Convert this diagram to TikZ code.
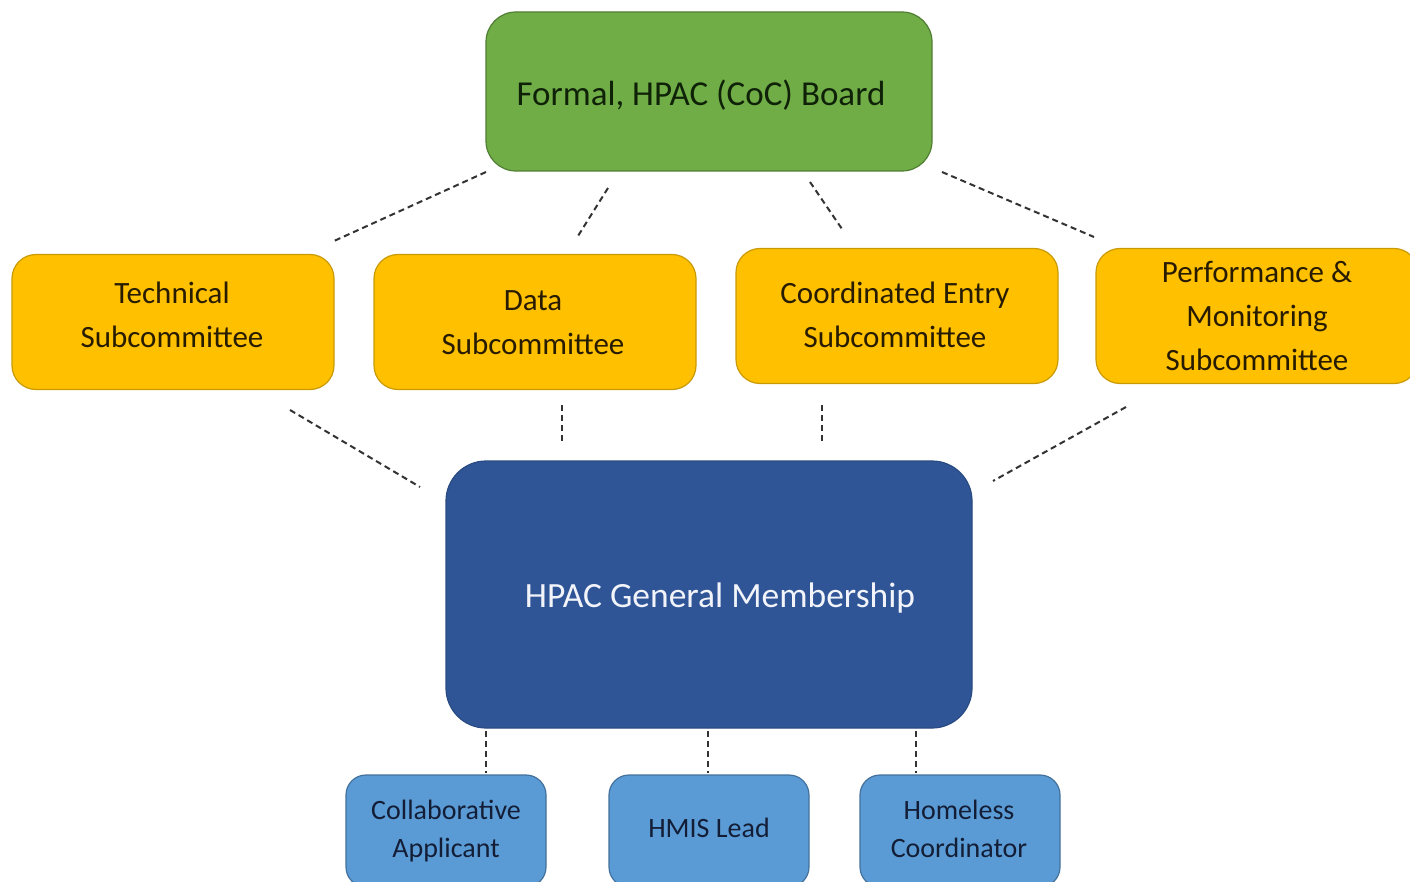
\documentclass[tikz,border=0pt]{standalone}
\usepackage{fontspec}
\setmainfont{Carlito}
\definecolor{gfill}{HTML}{70AD47}
\definecolor{gdraw}{HTML}{507E32}
\definecolor{yfill}{HTML}{FFC000}
\definecolor{ydraw}{HTML}{C99A06}
\definecolor{bfill}{HTML}{2F5597}
\definecolor{bdraw}{HTML}{2A4B82}
\definecolor{lfill}{HTML}{5B9BD5}
\definecolor{ldraw}{HTML}{41719C}
\definecolor{linkc}{HTML}{333333}
\definecolor{gtext}{HTML}{0F2208}
\definecolor{ytext}{HTML}{281C00}
\definecolor{btext}{HTML}{F2F4FA}
\definecolor{ltext}{HTML}{131E36}
\tikzset{
  box/.style={rectangle, inner sep=0pt, line width=1.2pt},
  lbl/.style={align=center, inner sep=0pt},
  board/.style={box, fill=gfill, draw=gdraw, rounded corners=30pt, minimum width=446pt, minimum height=159pt},
  boardtxt/.style={lbl, text=gtext, font=\fontsize{35}{40}\selectfont},
  subc/.style={box, fill=yfill, draw=ydraw, rounded corners=24pt, minimum width=322pt, minimum height=135pt},
  subctxt/.style={lbl, text=ytext, font=\fontsize{31}{44}\selectfont},
  general/.style={box, fill=bfill, draw=bdraw, rounded corners=40pt, minimum width=526pt, minimum height=267pt},
  gentxt/.style={lbl, text=btext, font=\fontsize{35.5}{40}\selectfont},
  role/.style={box, fill=lfill, draw=ldraw, rounded corners=20pt, minimum width=200pt, minimum height=112pt},
  roletxt/.style={lbl, text=ltext, font=\fontsize{28}{38}\selectfont},
  link/.style={draw=linkc, line width=2pt, dash pattern=on 6pt off 4pt}
}
\begin{document}
\begin{tikzpicture}[x=1pt,y=-1pt]
\useasboundingbox (0,0) rectangle (1410,882);
\clip (0,0) rectangle (1410,882);
\fill[white] (0,0) rectangle (1410,882);
% boxes
\node[board] (board) at (709,91.5) {};
\node[subc] (tech) at (173,322) {};
\node[subc] (data) at (535,322) {};
\node[subc] (ce) at (897,316) {};
\node[subc] (perf) at (1257,316) {};
\node[general] (gen) at (709,594.5) {};
\node[role] (ca) at (446,831) {};
\node[role] (hmis) at (709,831) {};
\node[role] (hc) at (960,831) {};
% texts
\node[boardtxt] (boardT) at (701,95) {Formal, HPAC (CoC) Board};
\node[subctxt] (techT) at (172,315) {Technical\\Subcommittee};
\node[subctxt] (dataT) at (533,323) {Data\\Subcommittee};
\node[subctxt] (ceT) at (895,315) {Coordinated Entry\\Subcommittee};
\node[subctxt] (perfT) at (1257,316) {Performance \&\\Monitoring\\Subcommittee};
\node[gentxt] (genT) at (720,598.5) {HPAC General Membership};
\node[roletxt] (caT) at (446,831) {Collaborative\\Applicant};
\node[roletxt] (hmisT) at (709,828) {HMIS Lead};
\node[roletxt] (hcT) at (959,829) {Homeless\\Coordinator};
% connector endpoints
\coordinate (b1) at (486,172); \coordinate (t1) at (334,241);
\coordinate (b2) at (608,188); \coordinate (t2) at (578,236);
\coordinate (b3) at (810,182); \coordinate (t3) at (842,229);
\coordinate (b4) at (942,172); \coordinate (t4) at (1094,237);
\coordinate (s1) at (290,410); \coordinate (g1) at (420,487);
\coordinate (s2) at (562,405); \coordinate (g2) at (562,442);
\coordinate (s3) at (822,405); \coordinate (g3) at (822,442);
\coordinate (s4) at (1126,407); \coordinate (g4) at (993,481);
\coordinate (m1) at (486,731); \coordinate (r1) at (486,773);
\coordinate (m2) at (708,731); \coordinate (r2) at (708,773);
\coordinate (m3) at (916,731); \coordinate (r3) at (916,773);
\draw[link] (b1) -- (t1);
\draw[link] (b2) -- (t2);
\draw[link] (b3) -- (t3);
\draw[link] (b4) -- (t4);
\draw[link] (s1) -- (g1);
\draw[link] (s2) -- (g2);
\draw[link] (s3) -- (g3);
\draw[link] (s4) -- (g4);
\draw[link] (m1) -- (r1);
\draw[link] (m2) -- (r2);
\draw[link] (m3) -- (r3);
\end{tikzpicture}
\end{document}
